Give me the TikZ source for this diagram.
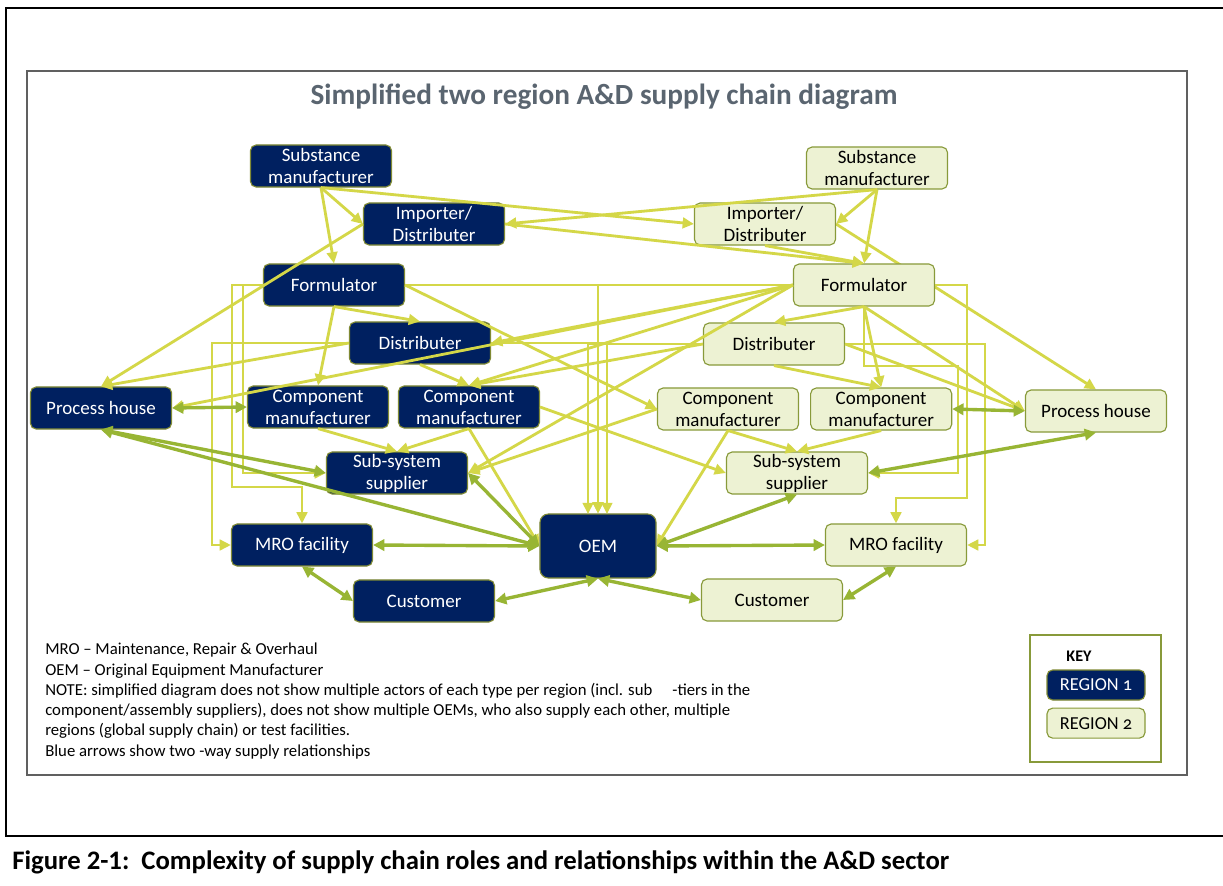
\documentclass[tikz,border=0pt]{standalone}
\usepackage{fontspec}
\setmainfont{Carlito}
\usetikzlibrary{positioning,arrows.meta,backgrounds}

\definecolor{navy}{RGB}{0,32,96}
\definecolor{navyrim}{RGB}{128,138,52}
\definecolor{cream}{RGB}{237,242,211}
\definecolor{boxrim}{RGB}{136,154,58}
\definecolor{supplyline}{RGB}{212,215,72}
\definecolor{twowayline}{RGB}{152,181,52}
\definecolor{titlegray}{RGB}{90,101,112}
\definecolor{framegray}{RGB}{96,96,96}

\tikzset{
  actor/.style={rounded corners=4pt, minimum width=3.525cm, minimum height=1.05cm,
    align=center, inner sep=1pt, line width=0.8pt, font=\fontsize{13.5}{15.6}\selectfont},
  region one/.style={actor, fill=navy, draw=navyrim, text=white},
  region two/.style={actor, fill=cream, draw=boxrim, text=black},
  key entry/.style={minimum width=2.45cm, minimum height=0.75cm, font=\fontsize{13}{15}\selectfont},
  supply/.style={draw=supplyline, line width=2pt, -{Triangle[length=8pt,width=7.5pt]}},
  two way/.style={draw=twowayline, line width=2.4pt,
    {Triangle[length=8pt,width=8pt]}-{Triangle[length=8pt,width=8pt]}}
}

\begin{document}
\begin{tikzpicture}[x=0.025cm, y=-0.025cm]
\useasboundingbox (0,0) rectangle (1223,886);
\begin{scope}[on background layer]
  \fill[white] (0,0) rectangle (1223,886);
\end{scope}

% page rules and diagram frame
\draw[line width=1.5pt] (5,8) -- (1223,8);
\draw[line width=0.8pt] (6,8) -- (6,836);
\draw[line width=1.5pt] (5,836) -- (1223,836);
\draw[framegray, line width=0.9pt] (27,71) rectangle (1187,775);

\node[text=titlegray, font=\bfseries\fontsize{20.8}{24}\selectfont] (title) at (604,97)
  {Simplified two region A\&D supply chain diagram};

% region 1
\node[region one] (sm1) at (321,166) {Substance\\manufacturer};
\node[region one] (imp1) at (434,224) {Importer/\\Distributer};
\node[region one] (form1) at (334,285) {Formulator};
\node[region one] (dist1) at (420,343) {Distributer};
\node[region one] (ph1) at (101,408) {Process house};
\node[region one] (cm1a) at (318,407) {Component\\manufacturer};
\node[region one, right=0.22cm of cm1a] (cm1b) {Component\\manufacturer};
\node[region one] (sub1) at (397,473) {Sub-system\\supplier};
\node[region one] (mro1) at (302,545) {MRO facility};
\node[region one, minimum width=2.9cm, minimum height=1.6cm, rounded corners=6pt] (oem) at (598,546) {OEM};
\node[region one] (cust1) at (424,601) {Customer};

% region 2
\node[region two] (sm2) at (877,168) {Substance\\manufacturer};
\node[region two] (imp2) at (765,224) {Importer/\\Distributer};
\node[region two] (form2) at (864,285) {Formulator};
\node[region two] (dist2) at (774,344) {Distributer};
\node[region two] (cm2a) at (728,409) {Component\\manufacturer};
\node[region two, right=0.275cm of cm2a] (cm2b) {Component\\manufacturer};
\node[region two] (ph2) at (1096,411) {Process house};
\node[region two] (sub2) at (797,473) {Sub-system\\supplier};
\node[region two] (mro2) at (896,545) {MRO facility};
\node[region two] (cust2) at (772,600) {Customer};

% bends of the routed connectors
\coordinate (oemL) at (588,514);
\coordinate (oemR) at (607,514);
\coordinate (f1mro) at (232,487);
\coordinate (f1sub) at (243,473);
\coordinate (d1mro) at (212,545);
\coordinate (f2sub) at (958,366);
\coordinate (f2mro) at (967,498);
\coordinate (d2mro) at (985,545);

\begin{scope}[on background layer]
  \draw[supply] (imp2.east) -- (ph2.north);
\end{scope}

\foreach \a/\b in {sm1.south/imp1.west, sm1.south/form1.north, sm1.south/imp2.west,
    sm2.south/imp1.east, imp1.east/form2.north, imp2.south/form2.north,
    sm2.south/imp2.east, sm2.south/form2.north, imp1.west/ph1.north,
    form1.south/dist1.north, form1.south/cm1a.north, form1.east/cm2a.west,
    dist1.west/ph1.north, dist1.south/cm1b.north, cm1a.south/sub1.north,
    cm1b.south/sub1.north, cm1b.south/oem.west, cm1b.east/sub2.west,
    form2.west/dist1.east, form2.west/ph1.east, form2.west/sub1.east,
    form2.west/cm1b.north, dist2.west/cm1b.north, cm2a.west/sub1.east,
    form2.south/dist2.north, form2.south/cm2b.north, dist2.south/cm2b.north,
    form2.south/ph2.west, dist2.east/ph2.west, cm2a.south/sub2.north,
    cm2b.south/sub2.north, cm2a.south/oem.east}
  \draw[supply] (\a) -- (\b);

\draw[supply] (form1.east) -| (oem.north);
\draw[supply] (form2.west) -| (oem.north);
\draw[supply] (dist1.east) -| (oemR);
\draw[supply] (dist2.west) -| (oemL);
\draw[supply] (form1.west) -| (f1mro) -| (mro1.north);
\draw[supply] (form1.west) -| (f1sub) -- (sub1.west);
\draw[supply] (dist1.west) -| (d1mro) -- (mro1.west);
\draw[supply] (form2.south) |- (f2sub) |- (sub2.east);
\draw[supply] (form2.east) -| (f2mro) -| (mro2.north);
\draw[supply] (dist2.east) -| (d2mro) -- (mro2.east);

\foreach \a/\b in {ph1.east/cm1a.west, ph1.south/sub1.west, ph1.south/oem.west,
    oem.west/sub1.east, oem.west/mro1.east, mro1.south/cust1.west,
    cust1.east/oem.south, oem.south/cust2.west, oem.east/mro2.west,
    oem.east/sub2.south, sub2.east/ph2.south, cm2b.east/ph2.west,
    cust2.east/mro2.south}
  \draw[two way] (\a) -- (\b);

\node[anchor=north west, align=left, inner sep=0pt, font=\fontsize{11.9}{14.4}\selectfont] (notes) at (45,643)
  {MRO – Maintenance, Repair \& Overhaul\\
   OEM – Original Equipment Manufacturer\\
   NOTE: simplified diagram does not show multiple actors of each type per region (incl. sub\hspace{1.2em}-tiers in the\\
   component/assembly suppliers), does not show multiple OEMs, who also supply each other, multiple\\
   regions (global supply chain) or test facilities.\\
   Blue arrows show two -way supply relationships};

% key
\draw[boxrim, line width=1pt] (1030,635) rectangle (1161,762);
\node[font=\bfseries\fontsize{11.5}{13}\selectfont] (keytitle) at (1079,656) {KEY};
\node[region one, key entry] (key1) at (1096,685) {REGION {\addfontfeature{Numbers=OldStyle}1}};
\node[region two, key entry, below=0.175cm of key1] (key2) {REGION {\addfontfeature{Numbers=OldStyle}2}};

\node[anchor=west, inner sep=0pt, font=\bfseries\fontsize{19}{22}\selectfont] (caption) at (12,862)
  {Figure 2-1:\ \ Complexity of supply chain roles and relationships within the A\&D sector};
\end{tikzpicture}
\end{document}
